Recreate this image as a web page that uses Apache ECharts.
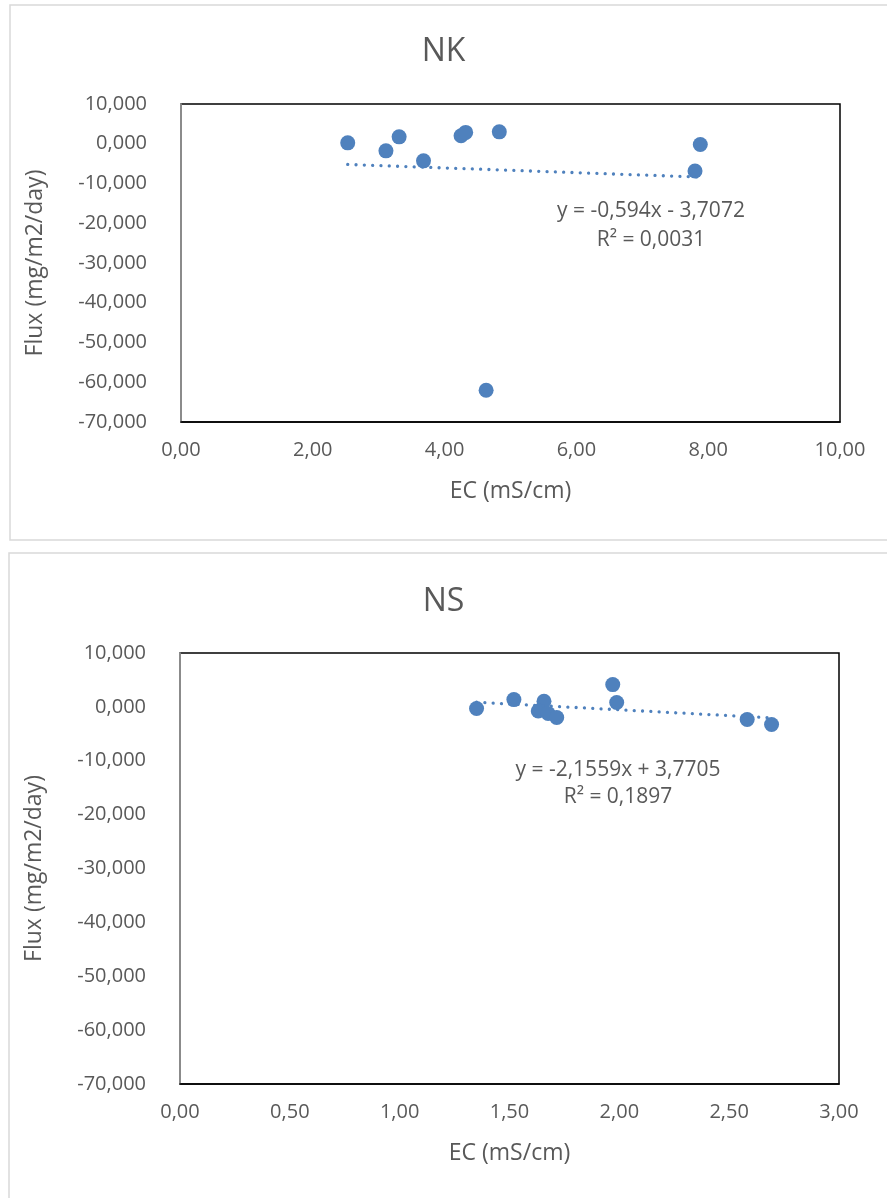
<!DOCTYPE html>
<html>
<head>
<meta charset="utf-8">
<script src="https://cdn.jsdelivr.net/npm/echarts@6/dist/echarts.min.js"></script>
<style>
html,body{margin:0;padding:0;background:#fff;}
#c{width:887px;height:1198px;}
</style>
</head>
<body>
<div id="c"></div>
<script>
// ---- Data ----
var nkEC   = [2.53, 3.11, 3.31, 3.68, 4.25, 4.32, 4.83, 4.63, 7.88, 7.80];
var nkFlux = [0.23, -1.79, 1.74, -4.3, 2.0, 2.85, 3.0, -62.0, -0.2, -6.84];
var nsEC   = [1.350, 1.520, 1.657, 1.631, 1.676, 1.715, 1.970, 1.988, 2.582, 2.693];
var nsFlux = [-0.3, 1.35, 1.04, -0.76, -1.24, -1.98, 4.13, 0.8, -2.35, -3.28];
var nkTrend = {slope: -0.594, intercept: -3.7072, eq: 'y = -0,594x - 3,7072', r2: 'R² = 0,0031'};
var nsTrend = {slope: -2.1559, intercept: 3.7705, eq: 'y = -2,1559x + 3,7705', r2: 'R² = 0,1897'};
var titles = ['NK', 'NS'];
var xTitle = 'EC (mS/cm)';
var yTitle = 'Flux (mg/m2/day)';

function pairs(xs, ys){ return xs.map(function(x,i){ return [x, ys[i]]; }); }
function trend(xs, t){
  var mn = Math.min.apply(null, xs), mx = Math.max.apply(null, xs);
  return [[mn, t.slope*mn + t.intercept], [mx, t.slope*mx + t.intercept]];
}
var FONT = '"Open Sans", sans-serif';
var GREY = '#595959';
var BLUE = '#4f81bd';
function fmt(d){ return function(v){ return v.toFixed(d).replace('.', ','); }; }

function xAxis(idx, max, interval){
  return {
    type:'value', gridIndex: idx, min:0, max:max, interval:interval,
    name: xTitle, nameLocation:'middle', nameGap: 58,
    nameTextStyle:{color:GREY, fontSize:23, fontFamily:FONT},
    axisLine:{show:true, onZero:false, lineStyle:{color:'#000', width:1.5}},
    axisTick:{show:false}, splitLine:{show:false},
    axisLabel:{color:GREY, fontSize:20, fontFamily:FONT, margin:18, formatter: fmt(2)}
  };
}
function yAxis(idx){
  return {
    type:'value', gridIndex: idx, min:-70, max:10, interval:10,
    name: yTitle, nameLocation:'middle', nameGap: 134, nameRotate: 90,
    nameTextStyle:{color:GREY, fontSize:23, fontFamily:FONT},
    axisLine:{show:true, onZero:false, lineStyle:{color:'#a6a6a6', width:1.5}},
    axisTick:{show:false}, splitLine:{show:false},
    axisLabel:{color:GREY, fontSize:20, fontFamily:FONT, margin:34, formatter: fmt(3)}
  };
}
function scatter(idx, xs, ys){
  return {type:'scatter', xAxisIndex:idx, yAxisIndex:idx, data:pairs(xs, ys),
    symbolSize:15, itemStyle:{color:BLUE, opacity:1}, z:2};
}
function trendSeries(idx, xs, t){
  return {type:'line', xAxisIndex:idx, yAxisIndex:idx, data:trend(xs, t),
    showSymbol:false, symbol:'none', silent:true, z:3,
    lineStyle:{color:BLUE, width:3.3, type:[0.01, 8.3], cap:'round'}};
}

var chart = echarts.init(document.getElementById('c'), null, {renderer:'canvas'});
chart.setOption({
  backgroundColor:'#fff',
  animation:false,
  title:[
    {text:titles[0], left:'center', top:31, textStyle:{color:GREY, fontSize:32, fontWeight:'normal', fontFamily:FONT}},
    {text:titles[1], left:'center', top:581, textStyle:{color:GREY, fontSize:32, fontWeight:'normal', fontFamily:FONT}}
  ],
  graphic:[
    {type:'rect', z:-10, shape:{x:10, y:5, width:890, height:535}, style:{fill:'#fff', stroke:'#d9d9d9', lineWidth:1.5}},
    {type:'rect', z:-10, shape:{x:9, y:553, width:890, height:660}, style:{fill:'#fff', stroke:'#d9d9d9', lineWidth:1.5}},
    {type:'text', z:10, x:651, y:211, style:{text:nkTrend.eq, fill:GREY, font:'21px "Open Sans", sans-serif', textAlign:'center', textVerticalAlign:'middle'}},
    {type:'text', z:10, x:651, y:240, style:{text:nkTrend.r2, fill:GREY, font:'21px "Open Sans", sans-serif', textAlign:'center', textVerticalAlign:'middle'}},
    {type:'text', z:10, x:618, y:770, style:{text:nsTrend.eq, fill:GREY, font:'21px "Open Sans", sans-serif', textAlign:'center', textVerticalAlign:'middle'}},
    {type:'text', z:10, x:618, y:797, style:{text:nsTrend.r2, fill:GREY, font:'21px "Open Sans", sans-serif', textAlign:'center', textVerticalAlign:'middle'}}
  ],
  grid:[
    {left:181, top:104, width:659, height:318, show:true, borderColor:'#000', borderWidth:1.5, backgroundColor:'transparent', containLabel:false},
    {left:180, top:653, width:659, height:431, show:true, borderColor:'#000', borderWidth:1.5, backgroundColor:'transparent', containLabel:false}
  ],
  xAxis:[ xAxis(0, 10, 2), xAxis(1, 3, 0.5) ],
  yAxis:[ yAxis(0), yAxis(1) ],
  series:[
    scatter(0, nkEC, nkFlux), trendSeries(0, nkEC, nkTrend),
    scatter(1, nsEC, nsFlux), trendSeries(1, nsEC, nsTrend)
  ]
});
</script>
</body>
</html>
